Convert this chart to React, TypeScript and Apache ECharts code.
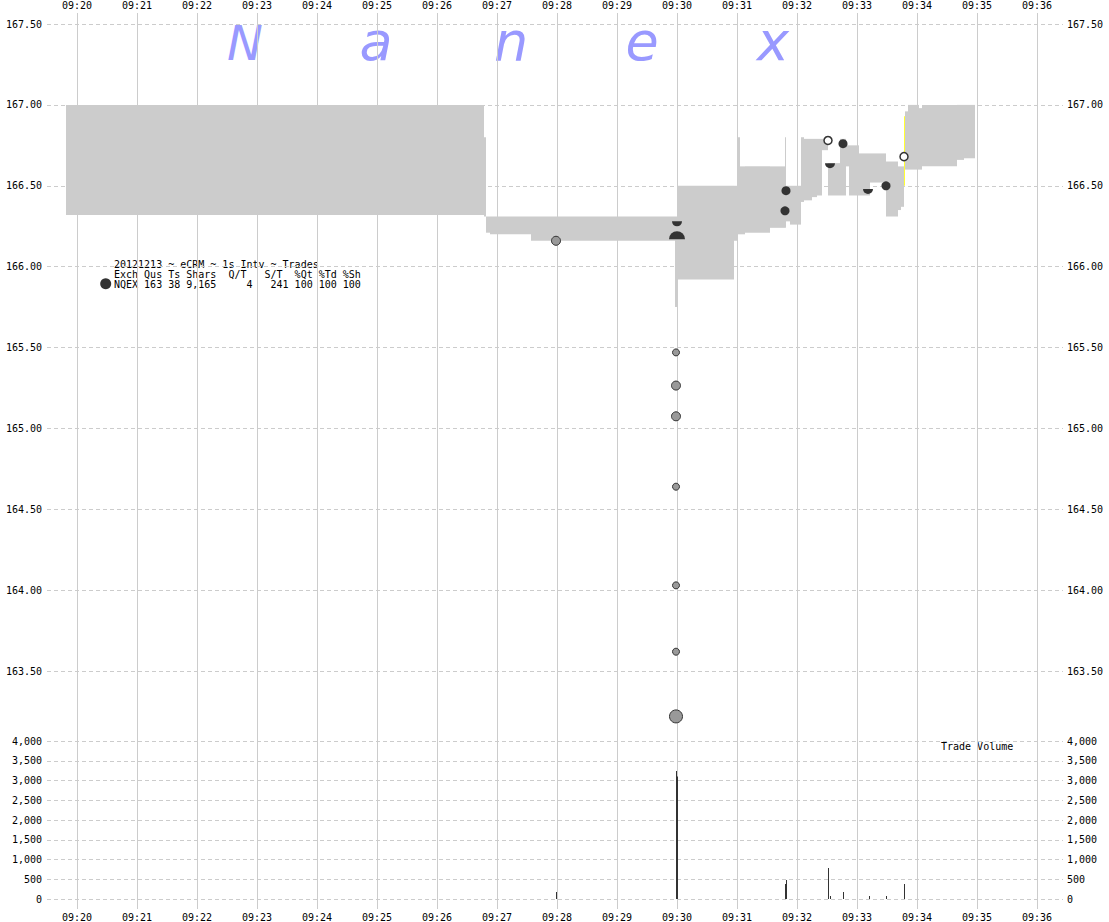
import React, { useEffect, useRef } from 'react';
import * as echarts from 'echarts';

// ---------- data ----------
const X_MIN_TIME = '09:19:30';
const X_MAX_TIME = '09:36:26';
const PRICE_MIN = 163.068;
const PRICE_MAX = 167.568;
const VOL_MIN = -253;
const VOL_MAX = 4000;

// NBBO spread segments: start, end, bid, ask
const quoteSegments: [string, string, number, number][] = [
  ['09:19:49', '09:26:47', 166.32, 167.0],
  ['09:26:47', '09:26:49', 166.31, 166.8],
  ['09:26:49', '09:26:53', 166.21, 166.31],
  ['09:26:53', '09:27:34', 166.2, 166.31],
  ['09:27:34', '09:29:58', 166.16, 166.31],
  ['09:29:58', '09:30:00', 165.75, 166.31],
  ['09:30:00', '09:30:57', 165.92, 166.5],
  ['09:30:57', '09:31:00', 166.16, 166.5],
  ['09:31:00', '09:31:03', 166.2, 166.8],
  ['09:31:03', '09:31:08', 166.2, 166.62],
  ['09:31:08', '09:31:33', 166.21, 166.62],
  ['09:31:33', '09:31:48', 166.24, 166.62],
  ['09:31:48', '09:31:49', 166.24, 166.8],
  ['09:31:49', '09:31:53', 166.28, 166.5],
  ['09:31:53', '09:32:04', 166.26, 166.5],
  ['09:32:04', '09:32:07', 166.4, 166.8],
  ['09:32:07', '09:32:15', 166.41, 166.79],
  ['09:32:15', '09:32:20', 166.43, 166.79],
  ['09:32:20', '09:32:25', 166.44, 166.79],
  ['09:32:25', '09:32:31', 166.72, 166.79],
  ['09:32:31', '09:32:43', 166.44, 166.64],
  ['09:32:43', '09:32:49', 166.44, 166.79],
  ['09:32:49', '09:32:52', 166.62, 166.75],
  ['09:32:52', '09:33:02', 166.44, 166.75],
  ['09:33:02', '09:33:13', 166.44, 166.7],
  ['09:33:13', '09:33:29', 166.52, 166.7],
  ['09:33:29', '09:33:41', 166.31, 166.65],
  ['09:33:41', '09:33:44', 166.35, 166.62],
  ['09:33:44', '09:33:47', 166.37, 166.62],
  ['09:33:48', '09:33:51', 166.6, 166.96],
  ['09:33:51', '09:34:02', 166.6, 167.0],
  ['09:34:02', '09:34:05', 166.6, 166.98],
  ['09:34:05', '09:34:40', 166.62, 167.0],
  ['09:34:40', '09:34:47', 166.66, 167.0],
  ['09:34:47', '09:34:58', 166.67, 167.0],
];

// locked market segment (yellow)
const lockedSegments: [string, string, number, number][] = [
  ['09:33:47', '09:33:48', 166.5, 166.93],
];

// trades: time, price, shares
const regularTrades: [string, number, number][] = [
  ['09:27:59', 166.16, 200],
  ['09:29:59', 165.47, 100],
  ['09:29:59', 165.265, 300],
  ['09:29:59', 165.075, 300],
  ['09:29:59', 164.64, 100],
  ['09:29:59', 164.03, 100],
  ['09:29:59', 163.62, 100],
  ['09:29:59', 163.22, 2500],
];
const darkTrades: [string, number][] = [
  ['09:31:49', 166.47],
  ['09:31:48', 166.345],
  ['09:32:46', 166.76],
  ['09:33:29', 166.5],
];
const openTrades: [string, number][] = [
  ['09:32:31', 166.78],
  ['09:33:47', 166.68],
];
const bowlTrades: [string, number][] = [
  ['09:30:00', 166.28],
  ['09:32:33', 166.64],
  ['09:33:11', 166.48],
];
const domeTrades: [string, number][] = [['09:30:00', 166.17]];

// trade volume per second
const volumes: [string, number][] = [
  ['09:27:59', 180],
  ['09:29:59', 3240],
  ['09:30:00', 3100],
  ['09:31:48', 380],
  ['09:31:49', 480],
  ['09:32:31', 785],
  ['09:32:33', 76],
  ['09:32:46', 177],
  ['09:33:12', 76],
  ['09:33:29', 76],
  ['09:33:47', 380],
];

const legendLines = [
  '20121213 ~ eCRM ~ 1s Intv ~ Trades',
  'Exch Qus Ts Shars  Q/T   S/T  %Qt %Td %Sh',
  'NQEX 163 38 9,165     4   241 100 100 100',
];
const watermarkLetters = ['N', 'a', 'n', 'e', 'x'];

// ---------- helpers ----------
const toSec = (s: string) => {
  const [h, m, x] = s.split(':').map(Number);
  return h * 3600 + m * 60 + x;
};
const fmtTime = (v: number) => {
  const h = Math.floor(v / 3600);
  const m = Math.floor((v % 3600) / 60);
  return String(h).padStart(2, '0') + ':' + String(m).padStart(2, '0');
};
const fmtVol = (v: number) => {
  const n = Math.round(v);
  return (n === 0 ? 0 : n).toLocaleString('en-US');
};

const MONO = "'DejaVu Sans Mono', 'Liberation Mono', monospace";
const GRID_COLOR = '#cccccc';

const rectRenderer = (fill: string) => (_params: any, api: any) => {
  const p0 = api.coord([api.value(0), api.value(3)]);
  const p1 = api.coord([api.value(1), api.value(2)]);
  return {
    type: 'rect',
    shape: { x: p0[0], y: p0[1], width: p1[0] - p0[0], height: p1[1] - p0[1] },
    style: { fill },
  };
};

const volRenderer = (_params: any, api: any) => {
  const t = api.value(0);
  const p0 = api.coord([t, api.value(1)]);
  const p1 = api.coord([t + 1, 0]);
  return {
    type: 'rect',
    shape: { x: p0[0], y: p0[1], width: p1[0] - p0[0], height: p1[1] - p0[1] },
    style: { fill: '#333333' },
  };
};

export default function App() {
  const ref = useRef<HTMLDivElement>(null);

  useEffect(() => {
    if (!ref.current) return;
    const chart = echarts.init(ref.current, undefined, { renderer: 'svg' });

    const xMin = toSec(X_MIN_TIME);
    const xMax = toSec(X_MAX_TIME);

    const xAxisBase = (gridIndex: number, position: 'top' | 'bottom') => ({
      type: 'value',
      gridIndex,
      position,
      min: xMin,
      max: xMax,
      minInterval: 60,
      maxInterval: 60,
      axisLine: { show: false },
      axisTick: { show: false },
      axisLabel: {
        formatter: (v: number) => fmtTime(v),
        fontFamily: MONO,
        fontSize: 10,
        color: '#000',
        margin: 3,
        showMinLabel: false,
        showMaxLabel: false,
      },
      splitLine: {
        show: true,
        showMinLine: false,
        showMaxLine: false,
        lineStyle: { color: GRID_COLOR, width: 1 },
      },
    });

    const yAxisBase = (
      gridIndex: number,
      position: 'left' | 'right',
      min: number,
      max: number,
      step: number,
      fmt: (v: number) => string,
      showMax: boolean
    ) => ({
      type: 'value',
      gridIndex,
      position,
      min,
      max,
      minInterval: step,
      maxInterval: step,
      axisLine: { show: false },
      axisTick: { show: false },
      axisLabel: {
        formatter: fmt,
        fontFamily: MONO,
        fontSize: 10,
        color: '#000',
        margin: position === 'left' ? 5 : 4,
        showMinLabel: false,
        showMaxLabel: showMax,
      },
      splitLine: {
        show: position === 'left',
        showMinLine: false,
        showMaxLine: showMax,
        lineStyle: { color: GRID_COLOR, width: 1, type: [4, 3] },
      },
    });

    const priceFmt = (v: number) => v.toFixed(2);

    const option: any = {
      animation: false,
      backgroundColor: '#ffffff',
      grid: [
        { left: 47, right: 46, top: 12, height: 729 },
        { left: 47, right: 46, top: 741, height: 168 },
      ],
      xAxis: [xAxisBase(0, 'top'), xAxisBase(1, 'bottom')],
      yAxis: [
        yAxisBase(0, 'left', PRICE_MIN, PRICE_MAX, 0.5, priceFmt, false),
        yAxisBase(0, 'right', PRICE_MIN, PRICE_MAX, 0.5, priceFmt, false),
        yAxisBase(1, 'left', VOL_MIN, VOL_MAX, 500, fmtVol, true),
        yAxisBase(1, 'right', VOL_MIN, VOL_MAX, 500, fmtVol, true),
      ],
      series: [
        {
          type: 'custom',
          name: 'spread',
          xAxisIndex: 0,
          yAxisIndex: 0,
          silent: true,
          renderItem: rectRenderer('#cccccc'),
          encode: { x: [0, 1], y: [2, 3] },
          data: quoteSegments.map(([s, e, b, a]) => [toSec(s), toSec(e), b, a]),
        },
        {
          type: 'custom',
          name: 'locked',
          xAxisIndex: 0,
          yAxisIndex: 0,
          silent: true,
          renderItem: rectRenderer('#ffff33'),
          encode: { x: [0, 1], y: [2, 3] },
          data: lockedSegments.map(([s, e, b, a]) => [toSec(s), toSec(e), b, a]),
        },
        {
          type: 'scatter',
          name: 'trades',
          xAxisIndex: 0,
          yAxisIndex: 0,
          symbol: 'circle',
          symbolSize: (v: number[]) => (v[2] >= 1000 ? 13 : v[2] >= 200 ? 9 : 7),
          itemStyle: { color: '#999999', borderColor: '#333333', borderWidth: 1, opacity: 1 },
          data: regularTrades.map(([t, p, s]) => [toSec(t), p, s]),
        },
        {
          type: 'scatter',
          name: 'bowl',
          xAxisIndex: 0,
          yAxisIndex: 0,
          symbol: 'path://M0 0A10 10 0 0 0 20 0Z',
          symbolSize: [10, 5],
          symbolOffset: [0, 2.5],
          itemStyle: { color: '#333333', opacity: 1 },
          data: bowlTrades.map(([t, p]) => [toSec(t), p]),
        },
        {
          type: 'scatter',
          name: 'dome',
          xAxisIndex: 0,
          yAxisIndex: 0,
          symbol: 'path://M0 10A10 10 0 0 1 20 10Z',
          symbolSize: [16, 8],
          symbolOffset: [0, -4],
          itemStyle: { color: '#333333', opacity: 1 },
          data: domeTrades.map(([t, p]) => [toSec(t), p]),
        },
        {
          type: 'scatter',
          name: 'dark',
          xAxisIndex: 0,
          yAxisIndex: 0,
          symbol: 'circle',
          symbolSize: 9,
          itemStyle: { color: '#333333', opacity: 1 },
          data: darkTrades.map(([t, p]) => [toSec(t), p]),
        },
        {
          type: 'scatter',
          name: 'open',
          xAxisIndex: 0,
          yAxisIndex: 0,
          symbol: 'circle',
          symbolSize: 8,
          itemStyle: { color: '#ffffff', borderColor: '#333333', borderWidth: 1.5, opacity: 1 },
          data: openTrades.map(([t, p]) => [toSec(t), p]),
        },
        {
          type: 'custom',
          name: 'volume',
          xAxisIndex: 1,
          yAxisIndex: 2,
          silent: true,
          renderItem: volRenderer,
          encode: { x: 0, y: 1 },
          data: volumes.map(([t, v]) => [toSec(t), v]),
        },
      ],
      graphic: [
        ...watermarkLetters.map((ch, i) => ({
          type: 'text',
          x: [245, 376, 511, 642, 773][i],
          y: i === 0 ? 43 : 41,
          silent: true,
          style: {
            text: ch,
            fill: '#9999ff',
            font: `italic ${i === 0 ? 48 : 54}px 'DejaVu Sans', sans-serif`,
            textAlign: 'center',
            textVerticalAlign: 'middle',
          },
        })),
        ...legendLines.map((line, i) => ({
          type: 'text',
          x: 114,
          y: [264.5, 274.3, 284][i],
          silent: true,
          style: {
            text: line,
            fill: '#000',
            font: `10px ${MONO}`,
            textAlign: 'left',
            textVerticalAlign: 'middle',
          },
        })),
        {
          type: 'circle',
          shape: { cx: 105.7, cy: 283.7, r: 5.5 },
          style: { fill: '#333333' },
          silent: true,
        },
        {
          type: 'text',
          x: 941,
          y: 746,
          silent: true,
          style: {
            text: 'Trade Volume',
            fill: '#000',
            font: `10px ${MONO}`,
            textAlign: 'left',
            textVerticalAlign: 'middle',
          },
        },
      ],
    };

    chart.setOption(option);
    return () => chart.dispose();
  }, []);

  return (
    <div
      ref={ref}
      style={{ position: 'fixed', left: 0, top: 0, width: 1109, height: 922, background: '#fff' }}
    />
  );
}
